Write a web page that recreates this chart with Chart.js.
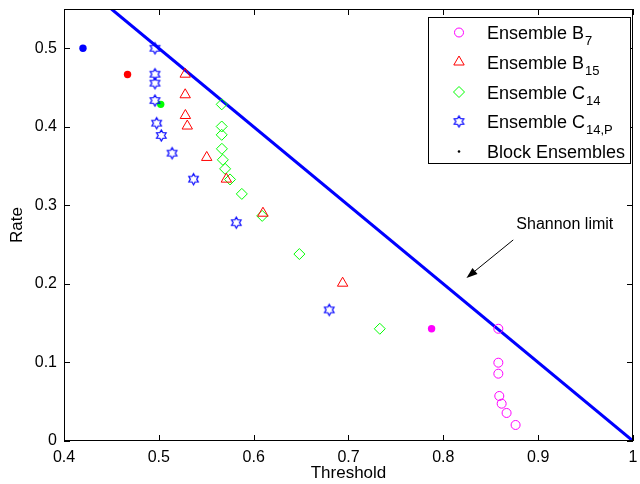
<!DOCTYPE html>
<html><head><meta charset="utf-8">
<script src="https://cdn.jsdelivr.net/npm/chart.js@4"></script>
<style>html,body{margin:0;padding:0;background:#fff}#wrap{width:640px;height:484px}</style>
</head><body><div id="wrap"><canvas id="c" width="640" height="484"></canvas></div>
<script>
// ---- data ----
const xTicks = [0.4, 0.5, 0.6, 0.7, 0.8, 0.9, 1];
const yTicks = [0, 0.1, 0.2, 0.3, 0.4, 0.5];
const shannonX = [0.45, 1];
const shannonY = [0.55, 0];
const b7X = [0.858, 0.858, 0.858, 0.859, 0.8615, 0.8667, 0.8762];
const b7Y = [0.1429, 0.0997, 0.0857, 0.0573, 0.0475, 0.0357, 0.0204];
const b15X = [0.5278, 0.5278, 0.528, 0.530, 0.5505, 0.5712, 0.6098, 0.6938];
const b15Y = [0.467, 0.4408, 0.4144, 0.401, 0.361, 0.3334, 0.290, 0.2009];
const c14X = [0.5663, 0.5663, 0.5663, 0.5665, 0.5675, 0.5699, 0.5751, 0.5875, 0.609, 0.6482, 0.733];
const c14Y = [0.4286, 0.4004, 0.3898, 0.372, 0.358, 0.3465, 0.333, 0.3146, 0.2866, 0.238, 0.1429];
const c14pX = [0.4959, 0.4959, 0.4959, 0.4959, 0.4977, 0.5026, 0.514, 0.5366, 0.5817, 0.6797];
const c14pY = [0.5, 0.467, 0.4556, 0.4335, 0.4047, 0.389, 0.3665, 0.3334, 0.278, 0.1669];
const blockX = [0.42, 0.467, 0.502, 0.7876];
const blockY = [0.5, 0.4667, 0.4286, 0.1429];
const blockColors = ['#0000ff', '#ff0000', '#00ff00', '#ff00ff'];
const legendLabels = ['Ensemble B', 'Ensemble B', 'Ensemble C', 'Ensemble C', 'Block Ensembles'];
const legendSubs = ['7', '15', '14', '14,P', ''];
const annotationText = 'Shannon limit';

function pts(xs, ys) { return xs.map((x, i) => ({x: x, y: ys[i]})); }

function makeHex(R, color) {
  const s = 2 * Math.ceil(R + 1) + 1;
  const c = document.createElement('canvas');
  c.width = s; c.height = s;
  const g = c.getContext('2d');
  const cx = s / 2, cy = s / 2, r = R / Math.sqrt(3);
  g.beginPath();
  for (let i = 0; i < 12; i++) {
    const a = -Math.PI / 2 + i * Math.PI / 6;
    const rr = i % 2 === 0 ? R : r;
    const px = cx + rr * Math.cos(a), py = cy + rr * Math.sin(a);
    if (i) g.lineTo(px, py); else g.moveTo(px, py);
  }
  g.closePath();
  g.strokeStyle = color; g.lineWidth = 1.2; g.stroke();
  return c;
}
const hexImg = makeHex(5.5, '#0000ff');

const FONT = "'Liberation Sans', Arial, Helvetica, sans-serif";

const decor = {
  id: 'decor',
  afterDraw(chart) {
    const ctx = chart.ctx, a = chart.chartArea, xs = chart.scales.x, ys = chart.scales.y;
    ctx.save();
    // box
    ctx.strokeStyle = '#000'; ctx.lineWidth = 1;
    ctx.strokeRect(Math.round(a.left) + 0.5, Math.round(a.top) + 0.5, Math.round(a.right - a.left) - 1, Math.round(a.bottom - a.top) - 1);
    // inward ticks
    const tl = 6;
    ctx.beginPath();
    xTicks.forEach(v => {
      const px = Math.round(xs.getPixelForValue(v)) + 0.5;
      ctx.moveTo(px, a.bottom); ctx.lineTo(px, a.bottom - tl);
      ctx.moveTo(px, a.top); ctx.lineTo(px, a.top + tl);
    });
    yTicks.forEach(v => {
      const py = Math.round(ys.getPixelForValue(v)) + 0.5;
      ctx.moveTo(a.left, py); ctx.lineTo(a.left + tl, py);
      ctx.moveTo(a.right, py); ctx.lineTo(a.right - tl, py);
    });
    ctx.stroke();

    // annotation
    ctx.fillStyle = '#000';
    ctx.font = '16px ' + FONT;
    ctx.textBaseline = 'middle'; ctx.textAlign = 'left';
    ctx.fillText(annotationText, xs.getPixelForValue(0.877), ys.getPixelForValue(0.276));
    const x1 = xs.getPixelForValue(0.8737), y1 = ys.getPixelForValue(0.256);
    const x2 = xs.getPixelForValue(0.8244), y2 = ys.getPixelForValue(0.2076);
    const ang = Math.atan2(y2 - y1, x2 - x1);
    const hl = 11, hw = 4;
    const bx = x2 - hl * Math.cos(ang), by = y2 - hl * Math.sin(ang);
    ctx.beginPath(); ctx.moveTo(x1, y1); ctx.lineTo(bx, by); ctx.stroke();
    ctx.beginPath();
    ctx.moveTo(x2, y2);
    ctx.lineTo(bx + hw * Math.sin(ang), by - hw * Math.cos(ang));
    ctx.lineTo(bx - hw * Math.sin(ang), by + hw * Math.cos(ang));
    ctx.closePath(); ctx.fill();

    // legend
    const L = 428, T = 17, R = 631, B = 164;
    ctx.fillStyle = '#fff'; ctx.fillRect(L, T, R - L, B - T);
    ctx.strokeStyle = '#000'; ctx.lineWidth = 1;
    ctx.strokeRect(L + 0.5, T + 0.5, R - L - 1, B - T - 1);
    const rows = [32.5, 62, 92, 121.5, 151.5];
    const mx = 459, tx = 487;
    rows.forEach((ry, i) => {
      ctx.lineWidth = 1;
      if (i === 0) {
        ctx.strokeStyle = '#ff00ff'; ctx.beginPath(); ctx.arc(mx, ry, 4.5, 0, Math.PI * 2); ctx.stroke();
      } else if (i === 1) {
        const r = 6;
        ctx.strokeStyle = '#ff0000'; ctx.beginPath();
        ctx.moveTo(mx, ry - r); ctx.lineTo(mx + r * 0.866, ry + r * 0.5); ctx.lineTo(mx - r * 0.866, ry + r * 0.5); ctx.closePath(); ctx.stroke();
      } else if (i === 2) {
        const r = 5.5;
        ctx.strokeStyle = '#00ff00'; ctx.beginPath();
        ctx.moveTo(mx, ry - r); ctx.lineTo(mx + r, ry); ctx.lineTo(mx, ry + r); ctx.lineTo(mx - r, ry); ctx.closePath(); ctx.stroke();
      } else if (i === 3) {
        ctx.drawImage(hexImg, mx - hexImg.width / 2, ry - hexImg.height / 2);
      } else {
        ctx.fillStyle = '#000'; ctx.beginPath(); ctx.arc(mx, ry, 1.3, 0, Math.PI * 2); ctx.fill();
      }
      ctx.fillStyle = '#000';
      ctx.font = '18px ' + FONT;
      ctx.textBaseline = 'alphabetic';
      const base = ry + 6.5;
      ctx.fillText(legendLabels[i], tx, base);
      if (legendSubs[i]) {
        const w = ctx.measureText(legendLabels[i]).width;
        ctx.font = '13px ' + FONT;
        ctx.fillText(legendSubs[i], tx + w + 1, base + 6);
      }
    });
    ctx.restore();
  }
};

new Chart(document.getElementById('c'), {
  type: 'scatter',
  data: {
    datasets: [
      {label: 'Shannon', data: pts(shannonX, shannonY), showLine: true, borderColor: '#0000ff', borderWidth: 3, pointRadius: 0, order: 10, fill: false},
      {label: 'B7', data: pts(b7X, b7Y), pointStyle: 'circle', pointRadius: 4.5, borderColor: '#ff00ff', backgroundColor: 'rgba(0,0,0,0)', borderWidth: 1},
      {label: 'B15', data: pts(b15X, b15Y), pointStyle: 'triangle', pointRadius: 6, borderColor: '#ff0000', backgroundColor: 'rgba(0,0,0,0)', borderWidth: 1},
      {label: 'C14', data: pts(c14X, c14Y), pointStyle: 'rectRot', pointRadius: 5.5, borderColor: '#00ff00', backgroundColor: 'rgba(0,0,0,0)', borderWidth: 1},
      {label: 'C14P', data: pts(c14pX, c14pY), pointStyle: hexImg, pointRadius: 5.5, borderColor: '#0000ff', backgroundColor: 'rgba(0,0,0,0)'},
      {label: 'Block', data: pts(blockX, blockY), pointStyle: 'circle', pointRadius: 3.7, borderWidth: 0, backgroundColor: blockColors, borderColor: blockColors}
    ]
  },
  options: {
    responsive: false, animation: false, devicePixelRatio: 1,
    layout: {padding: {top: 9, right: 5, left: 0, bottom: 0}},
    plugins: {legend: {display: false}, tooltip: {enabled: false}},
    scales: {
      x: {
        type: 'linear', min: 0.4, max: 1,
        afterBuildTicks: s => { s.ticks = xTicks.map(v => ({value: v})); },
        afterFit: s => { s.height = 43; s.paddingLeft = 0; s.paddingRight = 0; },
        grid: {display: false, drawTicks: false},
        border: {display: false},
        ticks: {padding: 7, color: '#000', font: {family: FONT, size: 16}, callback: v => String(Math.round(v * 10) / 10), maxRotation: 0, autoSkip: false},
        title: {display: true, text: 'Threshold', color: '#000', font: {family: FONT, size: 17}, padding: {top: 0, bottom: 0}}
      },
      y: {
        type: 'linear', min: 0, max: 0.55,
        afterBuildTicks: s => { s.ticks = yTicks.map(v => ({value: v})); },
        afterFit: s => { s.width = 64; s.paddingTop = 0; s.paddingBottom = 0; },
        grid: {display: false, drawTicks: false},
        border: {display: false},
        ticks: {padding: 7, color: '#000', font: {family: FONT, size: 16}, callback: v => String(Math.round(v * 10) / 10), autoSkip: false},
        title: {display: true, text: 'Rate', color: '#000', font: {family: FONT, size: 17}, padding: {top: 7, bottom: 0}}
      }
    }
  },
  plugins: [decor]
});
</script>
</body></html>
